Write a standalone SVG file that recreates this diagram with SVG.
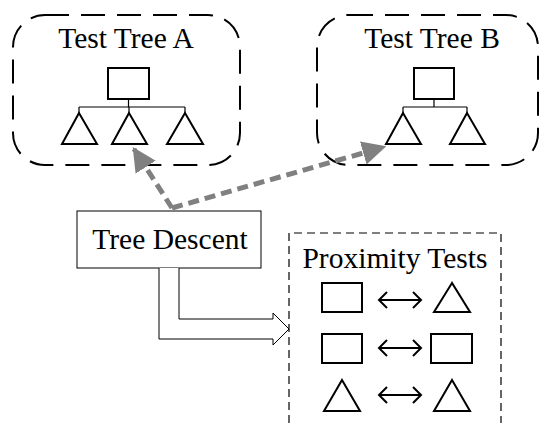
<svg xmlns="http://www.w3.org/2000/svg" width="539" height="423" viewBox="0 0 539 423">
<defs>
<style>
.t{font-family:"Liberation Serif","Times New Roman",serif;font-size:29.5px;fill:#000;text-anchor:middle}
.s{fill:none;stroke:#000;stroke-width:2}
.thin{fill:none;stroke:#000;stroke-width:1.2}
.grp{fill:none;stroke:#000;stroke-width:2;stroke-dasharray:24,12}
.gray{fill:none;stroke:#808080;stroke-width:5;stroke-dasharray:11,6}
</style>
<marker id="gh" viewBox="0 0 10 10" refX="9" refY="5" markerWidth="4.8" markerHeight="4.8" orient="auto" markerUnits="strokeWidth">
<path d="M0,0 L10,5 L0,10 Z" fill="#808080"/>
</marker>
</defs>
<rect width="539" height="423" fill="#fff"/>
<g id="treeA">
<rect class="grp" x="13" y="15" width="227" height="150" rx="32"/>
<text class="t" x="126" y="48">Test Tree A</text>
<rect class="s" x="108" y="68" width="41" height="31"/>
<path class="thin" d="M128.5,99 V107 M79,107 H185 M79,107 V113 M129,107 V113 M185,107 V113"/>
<path class="s" d="M79,113 L62,144 H97 Z M129,113 L112,144 H147 Z M185,113 L167,144 H203 Z"/>
</g>
<g id="treeB">
<rect class="grp" x="317" y="15" width="221" height="150" rx="32"/>
<text class="t" x="432" y="48">Test Tree B</text>
<rect class="s" x="414" y="68" width="40" height="31"/>
<path class="thin" d="M434,99 V107 M403,107 H467 M403,107 V113 M467,107 V113"/>
<path class="s" d="M403,113 L386,144 H421 Z M467,113 L450,144 H485 Z"/>
</g>
<g id="treeDescent">
<rect x="77" y="211" width="184" height="57" fill="#fff" stroke="#000" stroke-width="1"/>
<text class="t" x="170" y="249">Tree Descent</text>
</g>
<g id="proximityTests">
<path d="M289,423 V233 H501 V423" fill="none" stroke="#000" stroke-width="1.2" stroke-dasharray="8,5"/>
<text class="t" x="395" y="268">Proximity Tests</text>
<rect class="s" x="322" y="283" width="40" height="29"/>
<path class="s" d="M452,283 L434,312 H470 Z"/>
<rect class="s" x="322" y="334" width="40" height="29"/>
<rect class="s" x="431" y="334" width="41" height="29"/>
<path class="s" d="M342,380 L324,411 H360 Z M452,380 L434,411 H470 Z"/>
<path class="s" d="M379,300 H421 M387,292 L379,300 L387,308 M413,292 L421,300 L413,308"/>
<path class="s" d="M379,348 H421 M387,340 L379,348 L387,356 M413,340 L421,348 L413,356"/>
<path class="s" d="M379,395 H421 M387,387 L379,395 L387,403 M413,387 L421,395 L413,403"/>
</g>
<g id="connectors">
<path class="gray" d="M172,208 L134,149" marker-end="url(#gh)"/>
<path class="gray" d="M172,208 L384,147" marker-end="url(#gh)"/>
<path d="M159,268 V339 H273 V345 L289,329 L273,313 V319 H179 V268" fill="#fff" stroke="#000" stroke-width="1"/>
</g>
</svg>
